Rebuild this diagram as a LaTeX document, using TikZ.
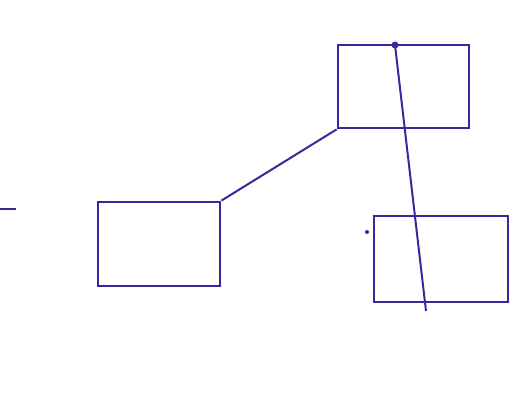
\documentclass[tikz,border=0pt]{standalone}
\usetikzlibrary{positioning,calc}
\definecolor{pen}{RGB}{52,42,160}
\tikzstyle{box} = [draw=pen, line width=2.8pt, rectangle, inner sep=0pt]
\tikzstyle{wire} = [draw=pen, line width=2pt]
\begin{document}
\begin{tikzpicture}[x=1pt, y=-1pt]

\useasboundingbox (0,0) rectangle (522,400);

\node [box, minimum width=131pt, minimum height=83pt] (upper) at (403.5,86.5) {};
\node [box, minimum width=134pt, minimum height=86pt] (lower) at (441,259) {};
\node [box, minimum width=122pt, minimum height=84pt] (left) at (159,244) {};

\coordinate (poleTop) at (395,45);
\coordinate (poleEnd) at (426,311);
\coordinate (stubA) at (0,209);
\coordinate (stubB) at (16,209);

\draw [wire] (left.north east) -- (upper.south west);
\draw [wire] (poleTop) -- (poleEnd);
\draw [wire] (stubA) -- (stubB);

\fill [pen] (poleTop) circle (3.5pt);
\fill [pen] (367,232) circle (2pt);

\end{tikzpicture}
\end{document}
